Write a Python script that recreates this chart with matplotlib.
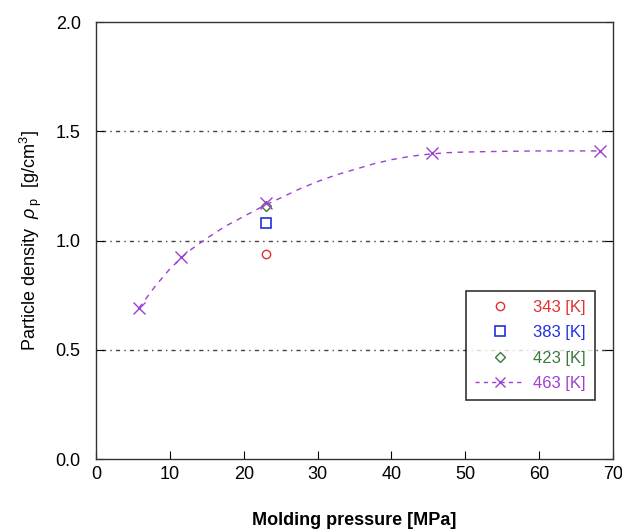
import matplotlib
matplotlib.use("Agg")
import matplotlib.pyplot as plt

plt.rcParams['font.family'] = ['Liberation Sans', 'DejaVu Sans']
plt.rcParams['mathtext.fontset'] = 'custom'
plt.rcParams['mathtext.rm'] = 'Liberation Sans'
plt.rcParams['mathtext.it'] = 'Liberation Sans:italic'

# measured points
p_343 = [23.0]
rho_343 = [0.94]
p_383 = [23.0]
rho_383 = [1.08]
p_423 = [23.0]
rho_423 = [1.16]
p_463 = [5.8, 11.5, 23.0, 45.5, 68.3]
rho_463 = [0.69, 0.925, 1.17, 1.40, 1.41]

# fitted curve for 463 K
fit_p = [5.8, 8, 10, 12.5, 15, 17.5, 20, 22.5, 25, 27.5, 30, 32.5, 35, 37.5, 40, 42.5, 45, 47.5, 50, 55, 60, 65, 68.3]
fit_rho = [0.69, 0.79, 0.87, 0.95, 1.01, 1.065, 1.11, 1.155, 1.195, 1.235, 1.27, 1.30, 1.325, 1.35, 1.37, 1.385, 1.395, 1.402, 1.405, 1.408, 1.41, 1.41, 1.41]

labels = ['343 [K]', '383 [K]', '423 [K]', '463 [K]']
colors = ['#e03030', '#2030e0', '#3a7a3a', '#a040d0']

fig = plt.figure(figsize=(6.22, 5.32), dpi=100)
ax = fig.add_axes([0.1543, 0.1372, 0.8312, 0.8214])

ax.plot(p_343, rho_343, 'o', mfc='none', mec=colors[0], ms=6, mew=1.0, label=labels[0])
ax.plot(p_383, rho_383, 's', mfc='none', mec=colors[1], ms=7, mew=1.2, label=labels[1])
ax.plot(p_423, rho_423, 'D', mfc='none', mec=colors[2], ms=5, mew=1.0, label=labels[2])
ax.plot(fit_p, fit_rho, '--', color=colors[3], lw=1.0, dashes=(4, 4))
ax.plot(p_463, rho_463, 'x', color=colors[3], ms=8, mew=1.0)
# legend proxy for the 463 K line+marker
ax.plot([], [], '--x', color=colors[3], lw=1.0, ms=7, dashes=(3, 3), label=labels[3])

ax.set_xlim(0, 70)
ax.set_ylim(0, 2.0)
ax.set_xticks(range(0, 71, 10))
ax.set_yticks([0.0, 0.5, 1.0, 1.5, 2.0])
ax.set_yticklabels(['0.0', '0.5', '1.0', '1.5', '2.0'])
ax.tick_params(direction='in', length=6, labelsize=13, top=False, right=True)
ax.tick_params(axis='x', pad=5)
ax.tick_params(axis='y', pad=11)
for s in ax.spines.values():
    s.set_linewidth(1.0)
    s.set_color('#333333')

for y in [0.5, 1.0, 1.5]:
    ax.axhline(y, color='#444444', lw=1.0, ls=(0, (1, 3, 3, 3)), zorder=0)

ax.set_xlabel('Molding pressure [MPa]', fontsize=13, fontweight='bold', labelpad=21)
ax.set_ylabel(r'Particle density  $\rho_{\ \mathrm{p}}$  [g/cm$^3$]', fontsize=13, labelpad=8)

leg = ax.legend(loc='lower right', bbox_to_anchor=(0.965, 0.135), fontsize=12,
                frameon=True, fancybox=False, edgecolor='black', handlelength=3.0,
                borderpad=0.55, labelspacing=0.62, handletextpad=0.5, borderaxespad=0)
leg.get_frame().set_linewidth(1.2)
for txt, c in zip(leg.get_texts(), colors):
    txt.set_color(c)

fig.savefig('out.png', dpi=100)
